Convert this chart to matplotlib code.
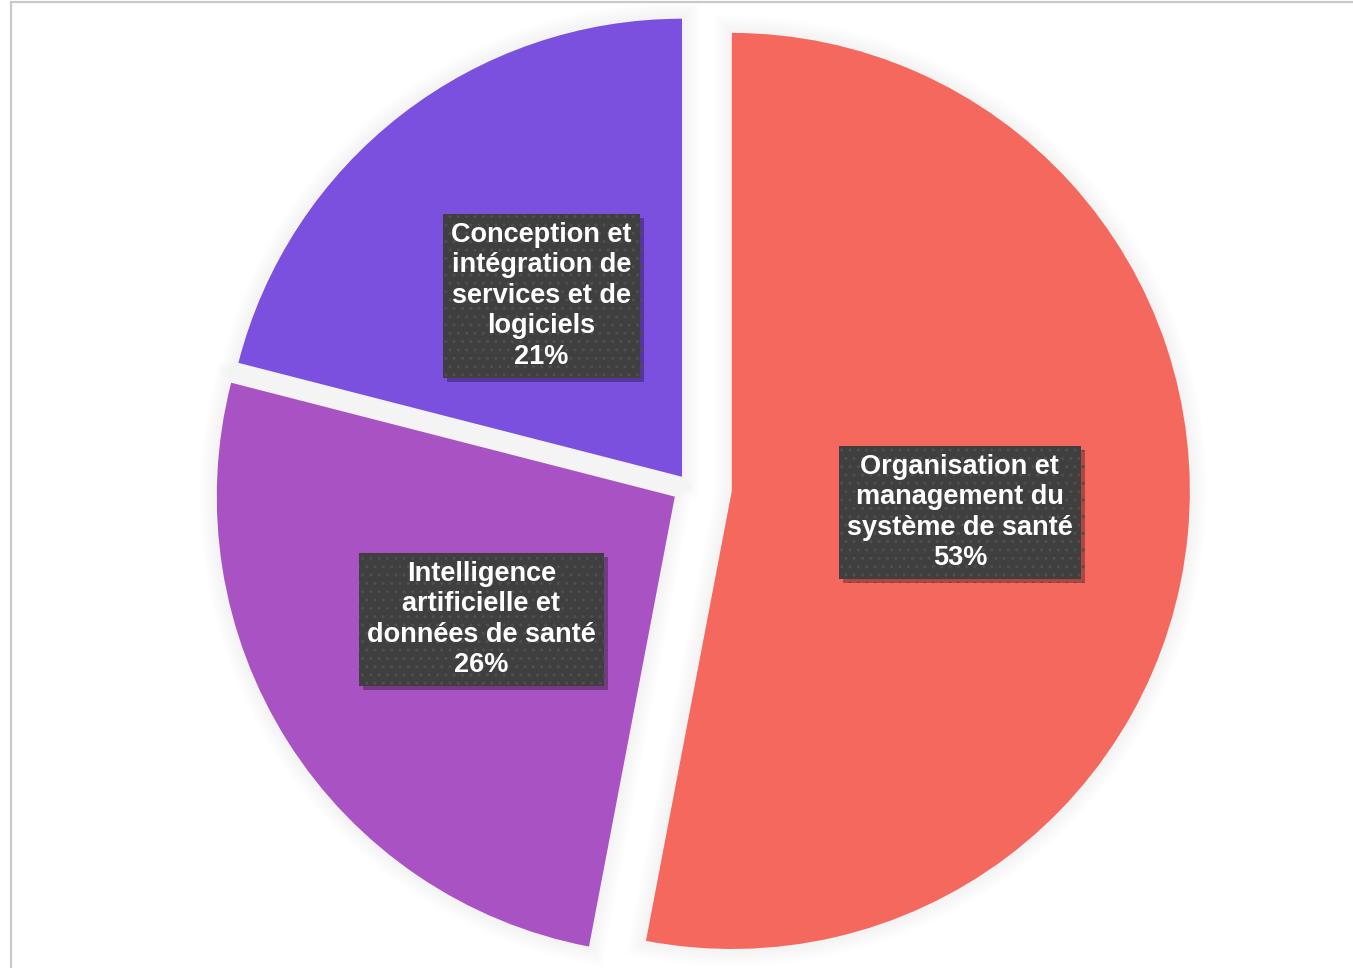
import matplotlib.pyplot as plt
import matplotlib.patheffects as pe
from matplotlib.patches import Rectangle

# donnees du graphique
categories = ["Organisation et\nmanagement du\nsystème de santé",
              "Intelligence\nartificielle et\ndonnées de santé",
              "Conception et\nintégration de\nservices et de\nlogiciels"]
valeurs = [53, 26, 21]
couleurs = ["#F4685E", "#A952C4", "#7B50DE"]

# mise en page (pixels)
W, H = 1353, 968
centre = (690, H - 487)
rayon = 458
ecarts = [42, 18, 13]

plt.rcParams['font.family'] = ['Liberation Sans', 'DejaVu Sans']

fig = plt.figure(figsize=(W / 100, H / 100), dpi=100)
ax = fig.add_axes([0, 0, 1, 1])

etiquettes = [f"{c}\n{v}%" for c, v in zip(categories, valeurs)]
wedges, texts = ax.pie(valeurs, labels=etiquettes, colors=couleurs,
                       startangle=90, counterclock=False, center=centre,
                       radius=rayon, explode=ecarts, labeldistance=0.5,
                       frame=True,
                       textprops=dict(color="white", fontsize=19.5,
                                      fontweight="bold"))
ax.set_xlim(0, W)
ax.set_ylim(0, H)
ax.axis('off')

# cadre gris clair
ax.add_patch(Rectangle((11, -20), W + 50, H - 2 + 20, fill=False,
                       ec="#c9c9c9", lw=1.6, zorder=0))

# ombre douce autour des parts
halo = [pe.Stroke(linewidth=lw, foreground="black", alpha=0.009)
        for lw in (24, 20, 16, 12, 8, 4)] + [pe.Normal()]
for w in wedges:
    w.set_edgecolor("none")
    w.set_path_effects(halo)

for t in texts:
    t.set_ha("center")
    t.set_va("center")
    t.set_multialignment("center")
    t.set_linespacing(1.22)
    t.set_bbox(dict(boxstyle="square,pad=0.3", fc="#3f3f3f",
                    ec="#4f4f4f", lw=0, hatch=".."))
    t.get_bbox_patch().set_path_effects(
        [pe.withSimplePatchShadow(offset=(3, -3), shadow_rgbFace="black",
                                  alpha=0.3)])

fig.savefig("out.png", dpi=100)
